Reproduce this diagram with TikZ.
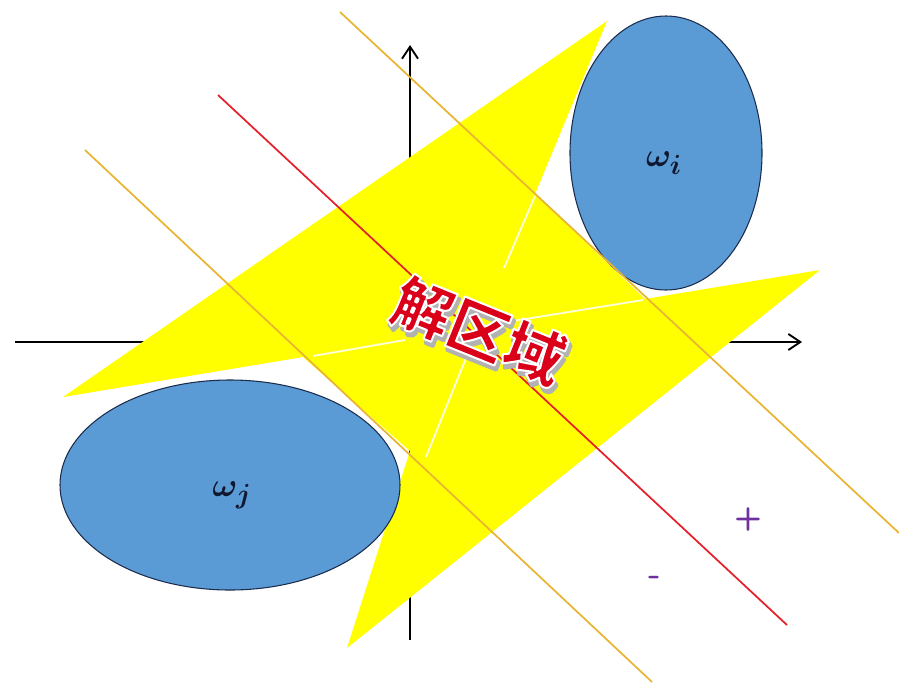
\documentclass[tikz,border=0pt]{standalone}
\usepackage{fontspec}
\newfontfamily\cjk{Noto Sans CJK SC}
\usetikzlibrary{arrows.meta,calc}
\definecolor{spark}{HTML}{FFFF00}
\definecolor{blob}{HTML}{5B9BD5}
\definecolor{blobline}{HTML}{1C2C4C}
\definecolor{gold}{HTML}{E8B432}
\definecolor{cut}{HTML}{E3202B}
\definecolor{ink}{HTML}{101830}
\definecolor{sign}{HTML}{7030A0}
\definecolor{solred}{HTML}{DA0019}
% red letters with a white rim (fill + stroke) and a soft grey shadow
\newcommand{\rimtext}[1]{%
  \makebox[0pt][l]{\hspace{2.6pt}\raisebox{-2.6pt}{\color{black!30}\special{pdf:literal direct q 2 Tr 0.7 0.7 0.7 RG 2.4 w 1 j}#1\special{pdf:literal direct Q}}}%
  {\color{solred}\special{pdf:literal direct q 2 Tr 1 1 1 RG 1.5 w 1 j}#1\special{pdf:literal direct Q}}}
\tikzset{
  axisline/.style={line width=1.4pt,black,-{Straight Barb[length=9pt,width=12pt,line width=1.4pt]}},
  seam/.style={white,line width=1.4pt,opacity=.85},
  bound/.style={gold,line width=1.3pt},
  classbox/.style={fill=blob,draw=blobline,line width=0.8pt},
  soltext/.style={font=\cjk\bfseries\fontsize{45}{48}\selectfont,rotate=-22,inner sep=0pt}
}
\begin{document}
\begin{tikzpicture}[x=0.75pt,y=-0.75pt]
        \useasboundingbox (0,0) rectangle (899,682);
        % axes
        \coordinate (xl) at (15,342);  \coordinate (xr) at (802,342);
        \coordinate (yb) at (410,640); \coordinate (yt) at (410,45);
        \draw[axisline] (xl) -- (xr);
        \draw[axisline] (yb) -- (yt);
        % star-shaped solution region
        \coordinate (tipL) at (63,397);  \coordinate (tipT) at (607,21);
        \coordinate (tipR) at (820,270); \coordinate (tipB) at (347,648);
        \coordinate (n1) at (535,194); \coordinate (n2) at (645,299);
        \coordinate (n3) at (410,451); \coordinate (n4) at (303,357);
        \fill[spark] (tipL) -- (tipT) -- (n1) -- (n2) -- (tipR) -- (tipB) -- (n3) -- (n4) -- cycle;
        \foreach \a/\b in {{535,196}/{504,268},{643,300}/{513,321},{313,356}/{405,340},{466,358}/{426,457}}{
          \draw[seam] (\a) -- (\b);}
        % classes
        \fill[classbox] (666,153) ellipse [x radius=96,y radius=137];
        \fill[classbox] (230,485) ellipse [x radius=170,y radius=105];
        \node[font=\fontsize{31}{33}\selectfont\boldmath,text=ink] (wi) at (664,163) {$\omega_i$};
        \node[font=\fontsize{31}{33}\selectfont\boldmath,text=ink] (wj) at (232,495) {$\omega_j$};
        % decision lines
        \coordinate (g1a) at (340,12);  \coordinate (g1b) at (899,533);
        \coordinate (g2a) at (85,150);  \coordinate (g2b) at (652,682);
        \coordinate (ra) at (218,95);   \coordinate (rb) at (787,625);
        \draw[bound] (g1a) -- (g1b);
        \draw[bound] (g2a) -- (g2b);
        \draw[cut,line width=1.3pt] (ra) -- (rb);
        % label
        \node[soltext] (sol) at (478,332) {\rimtext{解区域}};
        \node[font=\sffamily\bfseries\fontsize{24}{26}\selectfont,text=sign] (plus) at (748,519) {+};
        \node[font=\sffamily\bfseries\fontsize{26}{28}\selectfont,text=sign] (minus) at (655,581) {-};
      \end{tikzpicture}
\end{document}
